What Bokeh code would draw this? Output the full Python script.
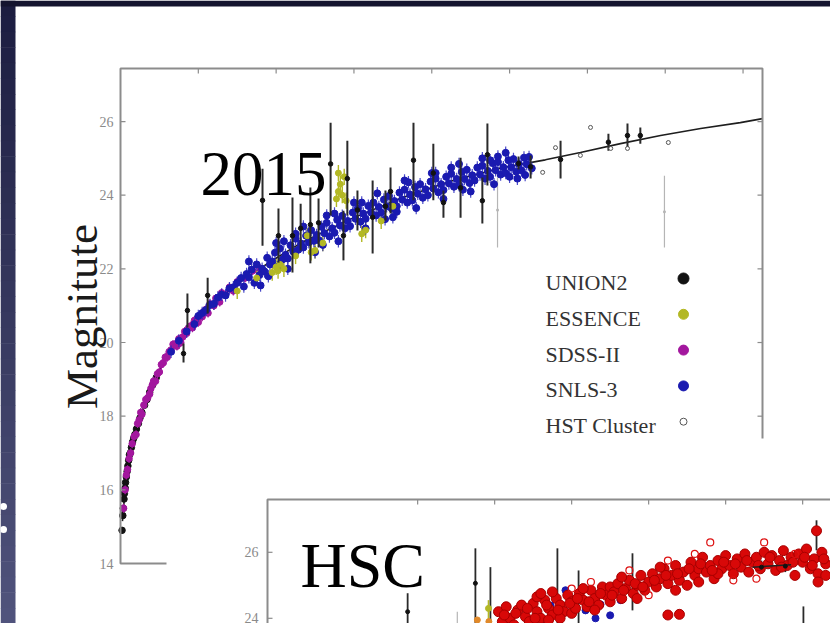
import math
from bokeh.plotting import figure
from bokeh.models import Range1d
from bokeh.embed import file_html
from bokeh.resources import INLINE
from bokeh.core.properties import value

# ---------------------------------------------------------------- data
mag_ticks = [14, 16, 18, 20, 22, 24, 26]
mag_tick_labels = ["14", "16", "18", "20", "22", "24", "26"]
z_ticks = [0.2, 0.4, 0.6, 0.8, 1.0, 1.2, 1.4, 1.6]

inset_mag_ticks = [24, 26]
inset_mag_labels = ["24", "26"]
inset_z_ticks = [0.4, 0.6, 0.8, 1.0, 1.2, 1.4]

legend_labels = ["UNION2", "ESSENCE", "SDSS-II", "SNLS-3", "HST Cluster"]

# model curve (redshift, magnitude)
model_pts = [(0.005, 15.15), (0.013, 16.15), (0.026, 17.05), (0.044, 17.7), (0.059, 18.24),
             (0.085, 18.89), (0.111, 19.5), (0.154, 20.1), (0.198, 20.65), (0.249, 21.15),
             (0.308, 21.65), (0.386, 22.2), (0.463, 22.7), (0.591, 23.35), (0.72, 23.92),
             (0.848, 24.38), (0.977, 24.74), (1.092, 24.96), (1.182, 25.16), (1.285, 25.40),
             (1.388, 25.62), (1.491, 25.81), (1.593, 25.97), (1.65, 26.08)]

# SNLS-3
snls_pts = [
    (0.13, 19.75), (0.15, 20.05), (0.17, 20.3), (0.19, 20.5), (0.20, 20.72), (0.21, 20.8), (0.22, 20.88),
    (0.23, 21.02), (0.24, 21.05), (0.25, 21.22), (0.26, 21.3), (0.27, 21.28), (0.28, 21.47), (0.29, 21.5),
    (0.30, 21.62),
    (0.310, 21.75), (0.317, 21.52), (0.324, 21.86), (0.330, 21.77), (0.337, 21.98), (0.344, 21.62),
    (0.350, 22.12), (0.357, 21.83), (0.364, 22.0), (0.370, 21.93), (0.377, 22.3), (0.384, 22.12),
    (0.390, 22.2), (0.397, 22.44), (0.404, 22.05), (0.410, 22.55), (0.417, 22.26), (0.424, 22.38),
    (0.430, 22.28), (0.437, 22.64), (0.444, 22.47), (0.450, 22.82), (0.457, 22.52), (0.464, 22.69),
    (0.470, 22.58), (0.477, 22.9), (0.484, 22.72), (0.490, 23.05), (0.497, 22.76), (0.504, 22.92),
    (0.510, 22.78), (0.517, 23.14), (0.524, 22.97), (0.530, 23.25), (0.537, 22.88), (0.544, 23.1),
    (0.550, 22.98), (0.557, 23.33), (0.564, 23.18), (0.570, 23.44), (0.577, 23.1), (0.584, 23.3),
    (0.590, 23.16), (0.597, 23.53), (0.604, 23.36), (0.610, 23.63), (0.617, 23.28), (0.624, 23.5),
    (0.630, 23.36), (0.637, 23.71), (0.644, 23.53), (0.650, 23.8), (0.657, 23.45), (0.664, 23.68),
    (0.670, 23.53), (0.677, 23.88), (0.684, 23.7), (0.690, 23.98), (0.697, 23.64), (0.704, 23.84),
    (0.710, 23.7), (0.717, 24.07), (0.724, 23.88), (0.730, 24.15), (0.737, 23.8), (0.744, 24.02),
    (0.750, 23.86), (0.757, 24.22), (0.764, 24.04), (0.770, 24.3), (0.777, 23.93), (0.784, 24.16),
    (0.790, 24.0), (0.797, 24.37), (0.804, 24.18), (0.810, 24.45), (0.817, 24.08), (0.824, 24.3),
    (0.830, 24.14), (0.837, 24.5), (0.844, 24.32), (0.850, 24.58), (0.857, 24.23), (0.864, 24.44),
    (0.870, 24.28), (0.877, 24.63), (0.884, 24.44), (0.890, 24.69), (0.897, 24.33), (0.904, 24.54),
    (0.910, 24.4), (0.917, 24.75), (0.924, 24.56), (0.930, 24.8), (0.937, 24.45), (0.944, 24.66),
    (0.950, 24.5), (0.957, 24.87), (0.964, 24.68), (0.970, 24.9), (0.977, 24.56), (0.984, 24.76),
    (0.990, 24.6), (0.997, 24.95), (1.004, 24.76), (1.010, 24.98), (1.017, 24.64), (1.024, 24.85),
    (1.030, 24.68), (1.037, 25.02), (1.044, 24.84), (1.050, 25.04), (1.057, 24.73),
    (0.33, 22.2), (0.36, 21.55), (0.40, 22.7), (0.43, 22.0), (0.47, 23.15), (0.50, 22.45), (0.53, 23.45),
    (0.56, 22.75), (0.60, 23.8), (0.63, 23.1), (0.66, 24.05), (0.70, 23.4), (0.73, 24.4), (0.76, 23.65),
    (0.80, 24.6), (0.83, 23.9), (0.87, 24.85), (0.90, 24.1), (0.93, 25.0), (0.96, 24.3), (0.99, 25.15),
    (1.02, 24.45), (0.38, 21.8), (0.45, 22.95), (0.55, 23.5), (0.68, 23.35), (0.74, 24.35), (0.85, 24.75),
    (0.95, 24.95), (1.04, 24.55), (0.42, 22.75), (0.52, 22.65), (0.62, 23.8), (0.71, 23.55), (0.81, 24.6),
    (0.88, 24.15), (0.97, 25.05), (1.00, 24.5)]
snls_err = 0.17

# SDSS-II
sdss_pts = [(0.008, 15.5), (0.012, 16.0), (0.015, 16.4), (0.018, 16.55), (0.022, 16.85), (0.026, 17.0),
            (0.03, 17.25), (0.035, 17.45), (0.04, 17.5), (0.044, 17.8), (0.048, 17.9), (0.052, 18.1),
            (0.055, 18.05), (0.06, 18.3), (0.065, 18.45), (0.07, 18.5), (0.075, 18.6), (0.078, 18.75),
            (0.082, 18.85), (0.085, 18.95), (0.09, 18.95), (0.095, 19.15), (0.10, 19.2), (0.105, 19.4),
            (0.11, 19.45), (0.115, 19.6), (0.12, 19.6), (0.125, 19.75), (0.13, 19.8), (0.135, 19.95),
            (0.14, 19.95), (0.145, 19.9), (0.15, 20.1), (0.155, 20.0), (0.16, 20.15), (0.165, 20.3),
            (0.17, 20.25), (0.175, 20.4), (0.18, 20.45), (0.185, 20.4), (0.19, 20.6), (0.20, 20.55),
            (0.205, 20.75), (0.21, 20.7), (0.215, 20.85), (0.22, 20.9), (0.225, 20.8), (0.23, 21.05),
            (0.24, 21.0), (0.245, 21.2), (0.25, 21.2), (0.255, 21.1), (0.26, 21.35), (0.27, 21.3),
            (0.28, 21.5), (0.29, 21.4), (0.30, 21.65), (0.32, 21.75), (0.34, 21.95), (0.36, 22.0)]
sdss_err = 0.12

# ESSENCE
essence_pts = [(0.30, 21.4), (0.35, 21.75), (0.39, 21.9), (0.40, 22.05), (0.405, 21.95), (0.41, 22.12),
               (0.42, 22.0), (0.45, 22.35), (0.48, 22.9), (0.49, 22.45), (0.50, 22.5), (0.52, 22.7),
               (0.555, 23.9), (0.56, 24.1), (0.565, 24.3), (0.57, 24.0), (0.575, 24.5), (0.58, 23.85),
               (0.56, 24.6), (0.62, 22.95), (0.63, 23.05), (0.67, 23.3), (0.70, 23.7)]
essence_err = 0.22

# UNION2 low redshift
union_pts = [(0.004, 14.9), (0.006, 15.3), (0.007, 15.5), (0.009, 15.75), (0.010, 15.9), (0.012, 16.05),
             (0.013, 16.2), (0.015, 16.35), (0.017, 16.5), (0.019, 16.65), (0.021, 16.8), (0.023, 16.95),
             (0.025, 17.0), (0.028, 17.15), (0.031, 17.3), (0.034, 17.4), (0.037, 17.5), (0.041, 17.65),
             (0.046, 17.8), (0.050, 17.95), (0.055, 18.1), (0.062, 18.3), (0.068, 18.45), (0.075, 18.65),
             (0.083, 18.85), (0.092, 19.05)]

# UNION2 with error bars: (z, low, mag, high)
union_bars = [(0.365, 22.63, 23.86, 24.72), (0.406, 22.17, 22.90, 23.64), (0.442, 21.90, 22.90, 23.94),
              (0.463, 22.50, 23.10, 23.77), (0.488, 22.15, 23.20, 24.21), (0.509, 22.58, 23.25, 23.91),
              (0.540, 23.45, 24.85, 25.97), (0.573, 22.23, 22.90, 23.58), (0.583, 23.45, 24.45, 25.48),
              (0.609, 23.04, 23.60, 24.13), (0.648, 22.42, 23.40, 24.40), (0.681, 23.31, 23.70, 24.13),
              (0.694, 23.50, 24.10, 24.75), (0.753, 23.86, 24.95, 25.97), (0.804, 23.86, 24.60, 25.40),
              (0.830, 23.39, 23.80, 24.13), (0.874, 23.39, 24.20, 25.02), (0.930, 23.23, 23.85, 24.48),
              (0.943, 24.26, 25.10, 25.95), (1.023, 24.70, 24.86, 25.05), (1.054, 24.45, 24.77, 25.08),
              (1.131, 24.45, 24.97, 25.48), (1.254, 25.21, 25.44, 25.67), (1.303, 25.29, 25.62, 25.95),
              (1.336, 25.40, 25.62, 25.84), (0.162, 19.46, 19.70, 19.97), (0.172, 20.41, 20.87, 21.33),
              (0.224, 20.79, 21.28, 21.76)]

# faint (grey) points with large errors: (z, low, mag, high)
faint_bars = [(0.969, 22.58, 23.60, 24.59), (1.398, 22.58, 23.55, 24.53)]

# HST cluster (open symbols)
hst_pts = [(1.085, 24.62), (1.118, 25.29), (1.182, 25.08), (1.208, 25.84), (1.26, 25.27),
           (1.303, 25.27), (1.408, 25.43)]

# ---- HSC inset
hsc_pts = [
    (0.61, 24.2), (0.62, 23.9), (0.63, 24.35), (0.64, 24.0), (0.65, 23.8), (0.66, 24.25), (0.67, 24.4),
    (0.68, 24.05), (0.69, 23.9), (0.70, 24.45), (0.71, 24.2), (0.72, 24.0), (0.73, 24.55), (0.74, 24.3),
    (0.75, 24.1), (0.76, 24.6), (0.77, 24.4), (0.78, 24.2), (0.79, 24.7), (0.80, 24.5), (0.71, 24.65),
    (0.74, 23.95), (0.77, 24.0), (0.80, 24.15), (0.72, 24.75), (0.75, 24.8),
    (0.81, 24.3), (0.82, 24.75), (0.83, 24.55), (0.84, 24.35), (0.85, 24.85), (0.86, 24.6), (0.87, 24.4),
    (0.88, 24.95), (0.89, 24.7), (0.90, 24.5), (0.83, 24.9), (0.86, 24.25), (0.90, 24.95),
    (0.91, 24.8), (0.92, 25.05), (0.93, 24.6), (0.94, 24.9), (0.95, 25.15), (0.96, 24.75), (0.97, 25.0),
    (0.98, 25.3), (0.99, 24.85), (1.00, 25.1), (0.93, 25.25), (0.97, 24.6),
    (1.01, 25.35), (1.02, 24.95), (1.03, 25.2), (1.04, 25.5), (1.05, 25.05), (1.06, 25.3), (1.07, 25.6),
    (1.08, 25.15), (1.09, 25.4), (1.10, 25.0), (1.03, 25.55), (1.07, 24.85), (1.05, 24.1), (1.08, 24.12),
    (1.11, 25.7), (1.12, 25.3), (1.13, 25.5), (1.14, 25.85), (1.15, 25.4), (1.16, 25.6), (1.17, 25.2),
    (1.18, 25.75), (1.19, 25.5), (1.20, 25.9), (1.13, 25.1), (1.18, 25.35),
    (1.21, 25.6), (1.22, 25.35), (1.23, 25.8), (1.24, 25.55), (1.25, 25.95), (1.26, 25.4), (1.27, 25.7),
    (1.28, 25.85), (1.29, 25.5), (1.30, 26.0), (1.31, 25.65), (1.32, 25.9), (1.33, 25.45), (1.34, 25.75),
    (1.35, 26.05), (1.36, 25.6), (1.37, 25.85), (1.38, 25.3), (1.39, 25.95), (1.40, 25.7), (1.41, 26.1),
    (1.42, 25.5), (1.43, 25.8), (1.44, 25.35), (1.45, 26.0), (1.46, 25.65), (1.436, 26.65), (1.44, 25.1),
    (1.46, 25.3),
    (0.625, 24.1), (0.655, 24.15), (0.685, 24.3), (0.705, 24.0), (0.735, 24.4), (0.765, 24.25),
    (0.795, 24.45), (0.815, 24.6), (0.845, 24.5), (0.875, 24.75), (0.905, 24.7), (0.935, 24.85),
    (0.965, 25.05), (0.985, 24.95), (1.015, 25.15), (1.045, 25.3), (1.075, 25.35), (1.105, 25.5),
    (1.135, 25.65), (1.165, 25.45), (1.195, 25.7), (1.225, 25.65), (1.255, 25.75), (1.285, 25.6),
    (1.315, 25.85), (1.345, 25.55), (1.375, 25.7), (1.405, 25.85), (1.425, 25.6), (1.455, 25.8)]
hsc_open_pts = [(0.80, 24.9), (0.85, 25.1), (0.95, 25.45), (1.00, 24.7), (1.05, 25.75), (1.12, 25.95),
                (1.16, 26.3), (1.22, 25.15), (1.28, 25.2), (1.30, 26.3), (1.38, 25.95)]
inset_snls_pts = [(0.732, 23.94), (0.745, 24.39), (0.766, 24.09), (0.784, 24.85), (0.81, 24.6),
                  (0.836, 24.24), (0.862, 24.0), (0.875, 24.42), (0.90, 24.09), (0.927, 24.55)]
inset_essence_pts = [(0.584, 24.3)]
inset_other_pts = [(0.555, 23.95), (0.585, 23.9)]
# (z, low, high)
inset_bars = [(0.374, 23.4, 24.76), (0.550, 23.4, 26.12), (0.589, 23.4, 25.55), (0.763, 23.4, 26.12),
              (0.818, 23.4, 25.45), (0.958, 24.24, 25.97), (1.402, 23.4, 24.36), (1.436, 26.06, 26.97),
              (1.293, 25.35, 25.75), (1.355, 25.40, 25.75)]
inset_faint_bars = [(0.503, 23.4, 24.2)]
inset_essence_bars = [(0.584, 23.94, 24.55)]
inset_black_pts = [(0.55, 25.06), (0.374, 24.2), (1.293, 25.55), (1.355, 25.58)]
inset_model_pts = [(1.27, 25.55), (1.37, 25.62)]

# ---------------------------------------------------------------- layout / style
W, H = 830, 623
SERIF = "Liberation Serif"
C_BLACK, C_ESS, C_SDSS, C_SNLS = "#121212", "#b3b824", "#a3179e", "#1a1ab0"
C_FRAME = "#8c8c8c"

# main panel: pixel box and axis limits
MAIN_L, MAIN_T, MAIN_R, MAIN_B = 120, 68, 762, 563
MAIN_X = (0.0, 1.65)
MAIN_Y = (14.0, 27.44)
M_PPX = (MAIN_R - MAIN_L) / (MAIN_X[1] - MAIN_X[0])
M_PPY = (MAIN_B - MAIN_T) / (MAIN_Y[1] - MAIN_Y[0])

# inset panel
INS_L, INS_T = 267, 499
INS_X0, INS_Y1 = 0.01, 27.6
I_PPX, I_PPY = 385.0, 33.0

# cover hiding the lower right part of the main panel
COVER_L, COVER_T = 166, 438


def cy(py):
    return H - py


def panel_ranges(px_left, px_top, x_left, y_top, ppx, ppy):
    xs = x_left - px_left / ppx
    ye = y_top + px_top / ppy
    return Range1d(xs, xs + W / ppx), Range1d(ye - H / ppy, ye)


p = figure(width=W, height=H, x_range=Range1d(0, W), y_range=Range1d(0, H),
           output_backend="svg", toolbar_location=None, min_border=0,
           x_axis_location=None, y_axis_location=None)
p.grid.visible = False
p.outline_line_color = None
p.background_fill_color = "white"
p.border_fill_color = "white"

mxr, myr = panel_ranges(MAIN_L, MAIN_T, MAIN_X[0], MAIN_Y[1], M_PPX, M_PPY)
ixr, iyr = panel_ranges(INS_L, INS_T, INS_X0, INS_Y1, I_PPX, I_PPY)
p.extra_x_ranges = {"mx": mxr, "ix": ixr}
p.extra_y_ranges = {"my": myr, "iy": iyr}
MR = dict(x_range_name="mx", y_range_name="my")
IR = dict(x_range_name="ix", y_range_name="iy")

# ---- slide decoration (dark strips, gradient on the left)
n_band = 40
c_top, c_bot = (28, 29, 64), (80, 83, 124)
band_cols, band_top, band_bot = [], [], []
for i in range(n_band):
    t = i / (n_band - 1)
    col = tuple(int(round(a + (b - a) * t)) for a, b in zip(c_top, c_bot))
    band_cols.append("#%02x%02x%02x" % col)
    band_top.append(H - i * H / n_band)
    band_bot.append(H - (i + 1) * H / n_band - 0.5)
p.quad(left=[0] * n_band, right=[15] * n_band, top=band_top, bottom=band_bot,
       fill_color=band_cols, line_color=None)
p.quad(left=[0], right=[W], top=[H], bottom=[cy(6)], fill_color="#14142f", line_color=None)
p.scatter(x=[3, 3], y=[cy(506), cy(529)], size=7, fill_color="white", line_color=None)


def unzip(pts):
    return [list(c) for c in zip(*pts)]


# ---- main panel
mz, mm = unzip(model_pts)
p.line(mz, mm, line_color="#1e1e1e", line_width=1.6, **MR)

fz, flo, fm, fhi = unzip(faint_bars)
p.segment(x0=fz, y0=flo, x1=fz, y1=fhi, line_color="#b5b5b5", line_width=1.2, **MR)
p.scatter(fz, fm, size=3, fill_color="#b5b5b5", line_color=None, **MR)

ez, em = unzip(essence_pts)
p.segment(x0=ez, y0=[m - essence_err for m in em], x1=ez, y1=[m + essence_err for m in em],
          line_color=C_ESS, line_width=1.4, **MR)

uz, um = unzip(union_pts)
p.scatter(uz, um, size=6.5, fill_color=C_BLACK, line_color=C_BLACK, **MR)

sz, sm = unzip(sdss_pts)
p.segment(x0=sz, y0=[m - sdss_err for m in sm], x1=sz, y1=[m + sdss_err for m in sm],
          line_color=C_SDSS, line_width=1.2, **MR)
p.scatter(sz, sm, size=6.5, fill_color=C_SDSS, line_color=C_SDSS, **MR)

bz, bm = unzip(snls_pts)
p.segment(x0=bz, y0=[m - snls_err for m in bm], x1=bz, y1=[m + snls_err for m in bm],
          line_color="#2a2ac0", line_width=1.2, line_alpha=0.85, **MR)
p.scatter(bz, bm, size=7, fill_color=C_SNLS, line_color=C_SNLS, **MR)

p.scatter(ez, em, size=6, fill_color=C_ESS, line_color=C_ESS, **MR)

ubz, ublo, ubm, ubhi = unzip(union_bars)
p.segment(x0=ubz, y0=ublo, x1=ubz, y1=ubhi, line_color="#2a2a2a", line_width=2, **MR)
p.scatter(ubz, ubm, size=4.5, fill_color=C_BLACK, line_color=C_BLACK, **MR)

hz, hm = unzip(hst_pts)
p.scatter(hz, hm, size=4, fill_color="white", line_color="#555555", line_width=1, **MR)

# frame, ticks, tick labels
p.quad(left=[MAIN_X[0]], right=[MAIN_X[1]], bottom=[MAIN_Y[0]], top=[MAIN_Y[1]],
       fill_color=None, line_color=C_FRAME, line_width=2, **MR)
tx = 5 / M_PPX
ty = 5 / M_PPY
n = len(mag_ticks)
p.segment(x0=[MAIN_X[0]] * n, x1=[MAIN_X[0] + tx] * n, y0=mag_ticks, y1=mag_ticks,
          line_color=C_FRAME, line_width=1.2, **MR)
p.segment(x0=[MAIN_X[1] - tx] * n, x1=[MAIN_X[1]] * n, y0=mag_ticks, y1=mag_ticks,
          line_color=C_FRAME, line_width=1.2, **MR)
p.segment(x0=z_ticks, x1=z_ticks, y0=[MAIN_Y[1]] * len(z_ticks), y1=[MAIN_Y[1] - ty] * len(z_ticks),
          line_color=C_FRAME, line_width=1.2, **MR)
p.text(x=[MAIN_X[0] - 7 / M_PPX] * n, y=mag_ticks, text=mag_tick_labels,
       text_align="right", text_baseline="middle", text_font=value(SERIF),
       text_font_size=value("14px"), text_color="#8a8a8a", **MR)

# legend (markers on the right of the labels)
LEG_X_TEXT, LEG_X_MARK, LEG_TOP, LEG_STEP = 545, 683, 282, 35.8
leg_y = [cy(LEG_TOP + i * LEG_STEP) for i in range(len(legend_labels))]
p.text(x=[LEG_X_TEXT] * len(legend_labels), y=leg_y, text=legend_labels,
       text_baseline="middle", text_font=value(SERIF), text_font_size=value("22px"),
       text_color="#333333")
p.scatter(x=[LEG_X_MARK] * 5, y=[v + 4 for v in leg_y], size=[11, 10, 10, 10, 7],
          fill_color=[C_BLACK, C_ESS, C_SDSS, C_SNLS, "white"],
          line_color=[C_BLACK, C_ESS, C_SDSS, C_SNLS, "#555555"], line_width=1)

# year label
p.text(x=[200], y=[cy(173)], text=["2015"], text_font=value(SERIF),
       text_font_size=value("63px"), text_color="black", text_baseline="alphabetic")

# y axis title
p.text(x=[81], y=[cy(316)], text=["Magnitute"], angle=math.pi / 2, text_align="center",
       text_baseline="alphabetic", text_font=value(SERIF), text_font_size=value("45px"),
       text_color="#1a1a1a")

# cover of the lower right of the main panel
p.quad(left=[COVER_L], right=[W], bottom=[0], top=[cy(COVER_T)], fill_color="white", line_color=None)

# ---- inset panel
p.quad(left=[INS_X0], right=[INS_X0 + 700 / I_PPX], bottom=[INS_Y1 - 300 / I_PPY], top=[INS_Y1],
       fill_color="white", line_color=C_FRAME, line_width=2, **IR)
itx = 5 / I_PPX
ity = 5 / I_PPY
p.segment(x0=[INS_X0] * 2, x1=[INS_X0 + itx] * 2, y0=inset_mag_ticks, y1=inset_mag_ticks,
          line_color=C_FRAME, line_width=1.2, **IR)
p.segment(x0=inset_z_ticks, x1=inset_z_ticks, y0=[INS_Y1] * len(inset_z_ticks),
          y1=[INS_Y1 - ity] * len(inset_z_ticks), line_color=C_FRAME, line_width=1.2, **IR)
p.text(x=[INS_X0 - 9 / I_PPX] * 2, y=inset_mag_ticks, text=inset_mag_labels,
       text_align="right", text_baseline="middle", text_font=value(SERIF),
       text_font_size=value("14px"), text_color="#8a8a8a", **IR)

ifz, iflo, ifhi = unzip(inset_faint_bars)
p.segment(x0=ifz, y0=iflo, x1=ifz, y1=ifhi, line_color="#b5b5b5", line_width=1.2, **IR)
ibz, iblo, ibhi = unzip(inset_bars)
p.segment(x0=ibz, y0=iblo, x1=ibz, y1=ibhi, line_color="#2a2a2a", line_width=1.8, **IR)
iez, ielo, iehi = unzip(inset_essence_bars)
p.segment(x0=iez, y0=ielo, x1=iez, y1=iehi, line_color=C_ESS, line_width=1.6, **IR)
iez2, iem2 = unzip(inset_essence_pts)
p.scatter(iez2, iem2, size=6, fill_color=C_ESS, line_color=C_ESS, **IR)
ioz, iom = unzip(inset_other_pts)
p.scatter(ioz, iom, size=6, fill_color="#e0892a", line_color="#e0892a", **IR)
isz, ism = unzip(inset_snls_pts)
p.scatter(isz, ism, size=7, fill_color=C_SNLS, line_color=C_SNLS, **IR)
rz, rm = unzip(hsc_pts)
p.scatter(rz, rm, size=10, fill_color="#d80808", line_color="#a80000", line_width=1, **IR)
roz, rom = unzip(hsc_open_pts)
p.scatter(roz, rom, size=7, fill_color=None, line_color="#dd1010", line_width=1.2, **IR)
imz, imm = unzip(inset_model_pts)
p.line(imz, imm, line_color="#222222", line_width=1.5, **IR)
ikz, ikm = unzip(inset_black_pts)
p.scatter(ikz, ikm, size=4, fill_color=C_BLACK, line_color=C_BLACK, **IR)

p.text(x=[300], y=[cy(565)], text=["HSC"], text_font=value(SERIF),
       text_font_size=value("64px"), text_color="black", text_baseline="alphabetic")

open("out.html", "w").write(file_html(p, INLINE))
